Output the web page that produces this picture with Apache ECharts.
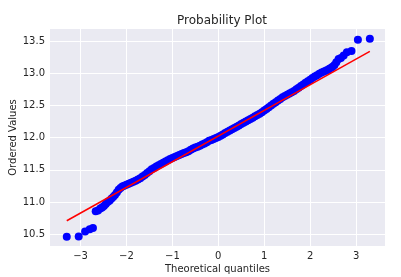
<!DOCTYPE html>
<html>
<head>
<meta charset="utf-8">
<script src="https://cdn.jsdelivr.net/npm/echarts@6/dist/echarts.min.js"></script>
<style>
html,body{margin:0;padding:0;background:#fff;}
#chart{width:401px;height:277px;}
</style>
</head>
<body>
<div id="chart"></div>
<script>
// Theoretical quantiles (x) and ordered values (y)
const theoreticalQuantiles = [
  -3.30,-3.04,-2.90,-2.80,-2.73,-2.67,-2.62,-2.57,-2.53,-2.49,-2.45,-2.41,-2.37,-2.33,-2.29,-2.25,-2.21,-2.17,-2.13,-2.09,
  -2.05,-2.00,-1.95,-1.90,-1.85,-1.80,-1.75,-1.70,-1.65,-1.60,-1.55,-1.50,-1.45,-1.40,-1.35,-1.30,-1.25,-1.20,-1.15,-1.10,
  -1.05,-1.00,-0.95,-0.90,-0.85,-0.80,-0.75,-0.70,-0.65,-0.60,-0.55,-0.50,-0.45,-0.40,-0.35,-0.30,-0.25,-0.20,-0.15,-0.10,
  -0.05,0.00,0.05,0.10,0.15,0.20,0.25,0.30,0.35,0.40,0.45,0.50,0.55,0.60,0.65,0.70,0.75,0.80,0.85,0.90,
  0.95,1.00,1.05,1.10,1.15,1.20,1.25,1.30,1.35,1.40,1.45,1.50,1.55,1.60,1.65,1.70,1.75,1.80,1.85,1.90,
  1.95,2.00,2.05,2.10,2.15,2.20,2.25,2.30,2.35,2.39,2.42,2.46,2.49,2.53,2.57,2.62,2.67,2.73,2.80,2.90,
  3.04,3.30
];
const orderedValues = [
  10.460,10.467,10.543,10.579,10.597,10.859,10.869,10.900,10.915,10.940,10.970,11.000,11.020,11.050,11.080,11.110,11.150,11.190,11.220,11.240,
  11.255,11.270,11.285,11.300,11.315,11.330,11.350,11.370,11.395,11.420,11.450,11.480,11.510,11.530,11.550,11.570,11.590,11.610,11.630,11.650,
  11.670,11.685,11.700,11.715,11.730,11.745,11.760,11.775,11.790,11.810,11.830,11.845,11.860,11.875,11.895,11.910,11.930,11.950,11.965,11.980,
  11.995,12.010,12.030,12.050,12.070,12.090,12.110,12.130,12.150,12.170,12.190,12.210,12.230,12.250,12.270,12.290,12.310,12.330,12.350,12.370,
  12.395,12.420,12.445,12.470,12.500,12.525,12.550,12.575,12.600,12.625,12.645,12.665,12.685,12.705,12.725,12.750,12.775,12.800,12.825,12.850,
  12.875,12.900,12.925,12.950,12.970,12.990,13.010,13.025,13.040,13.055,13.070,13.085,13.100,13.126,13.170,13.220,13.235,13.276,13.324,13.345,
  13.521,13.534
];
// Least-squares fit line end points
const fitLineX = [-3.30, 3.30];
const fitLineY = [10.71, 13.34];
// Tick labels
const xTicks = [-3,-2,-1,0,1,2,3];
const yTicks = [10.5,11.0,11.5,12.0,12.5,13.0,13.5];

const chart = echarts.init(document.getElementById('chart'), null, {renderer:'canvas'});
const textColor = '#262626';
const font = 'DejaVu Sans';
chart.setOption({
  animation: false,
  backgroundColor: '#ffffff',
  title: {
    text: 'Probability Plot',
    left: 217, top: 10, textAlign: 'center',
    textStyle: {fontFamily: font, fontSize: 12, fontWeight: 'normal', color: textColor}
  },
  grid: {left: 50, right: 16, top: 29, bottom: 31, show: true, backgroundColor: '#EAEAF2', borderWidth: 0,
    containLabel: false, outerBoundsMode: 'none'},
  xAxis: {
    type: 'value', min: -3.665, max: 3.63,
    name: 'Theoretical quantiles', nameLocation: 'middle', nameGap: 18, nameMoveOverlap: false,
    nameTextStyle: {fontFamily: font, fontSize: 10, color: textColor},
    axisLine: {show: false},
    axisTick: {show: false, customValues: xTicks},
    axisLabel: {customValues: xTicks, fontFamily: font, fontSize: 10, color: textColor, margin: 5,
      formatter: v => (v < 0 ? '\u2212' + Math.abs(v) : String(v))},
    splitLine: {show: true, lineStyle: {color: '#ffffff', width: 1}}
  },
  yAxis: {
    type: 'value', min: 10.318, max: 13.686,
    name: 'Ordered Values', nameLocation: 'middle', nameGap: 32, nameMoveOverlap: false,
    nameTextStyle: {fontFamily: font, fontSize: 10, color: textColor},
    axisLine: {show: false},
    axisTick: {show: false, customValues: yTicks},
    axisLabel: {customValues: yTicks, fontFamily: font, fontSize: 10, color: textColor, margin: 5,
      formatter: v => v.toFixed(1)},
    splitLine: {show: true, lineStyle: {color: '#ffffff', width: 1}}
  },
  series: [
    {
      type: 'scatter',
      data: theoreticalQuantiles.map((x, i) => [x, orderedValues[i]]),
      symbol: 'circle', symbolSize: 8,
      itemStyle: {color: '#0000ff', opacity: 1},
      z: 2
    },
    {
      type: 'line',
      data: fitLineX.map((x, i) => [x, fitLineY[i]]),
      symbol: 'none',
      lineStyle: {color: '#ff0000', width: 1.5},
      z: 3
    }
  ]
});
</script>
</body>
</html>
